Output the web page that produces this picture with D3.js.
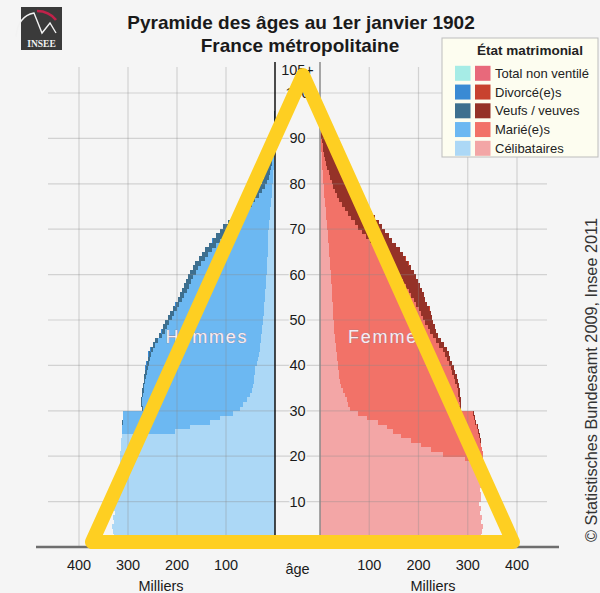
<!DOCTYPE html>
<html><head><meta charset="utf-8">
<script src="https://cdn.jsdelivr.net/npm/d3@7"></script>
<style>
html,body{margin:0;padding:0;background:#f5f5f5;}
svg{display:block;font-family:"Liberation Sans",Arial,sans-serif;}
</style></head><body>
<svg id="chart" width="600" height="593"></svg>
<script>
// ---- DATA (milliers, par âge 0 .. 105+) ----
const ages = d3.range(0, 106);
const ageTickValues = [10,20,30,40,50,60,70,80,90,100,105];
const ageTickLabels = ["10","20","30","40","50","60","70","80","90","100","105+"];
const popTicks = [100,200,300,400];

const hommesCelib = [330,325,328,330,332,329,330,327,328,325,326,324,322,322,320,321,318,318,316,317,316,315,314,314,313,
 204,173,133,112,86,
 71,65,57,51,47,45,43,42,41,40,
 37,35,33,31,30,29,28,27,26,25,
 24,23,22.5,22,21,20,19.5,19,18,17.5,
 17,16.5,16,15.5,15,15,14.5,14,13.5,13.5,
 13,12,11,10,9.5,9,8,7,6,5.5,
 5,4,3.5,3,2.5,2,1.8,1.5,1.2,1,
 0.8,0.6,0.5,0.4,0.3,0.2,0.2,0.1,0.1,0.1,
 0.05,0,0,0,0,0];
const hommesMaries = [0,0,0,0,0,0,0,0,0,0,0,0,0,0,0,0,0,0,0,0,0,0,0,0,0,
 108.5,138.5,178,198,224,
 199,207,214,219,221,222,222,221,221,220,
 221,220,220,218,214,209,202,198,195,192,
 187,183,178,173,169,165,161,157,153,150,
 145,140,135,128,122,114,106,98.5,90,82.5,
 75.5,67.5,59.5,51,44,37,32,26,21,15.5,
 11,9,7.5,6,4.5,4,3.2,2.5,1.8,1.5,
 1.2,0.8,0.6,0.5,0.3,0.2,0.2,0.2,0.1,0.05,
 0.05,0,0,0,0,0];
const hommesVeufs = [0,0,0,0,0,0,0,0,0,0,0,0,0,0,0,0,0,0,0,0,0,0,0,0,0,
 0.5,0.5,1,1,1,
 1.5,1.5,2,2,2.5,3,3,3.5,3.5,4,
 4,4.5,5,5,5.5,6,6,6.5,7,7,
 7.5,7.5,8,8,8.5,9,9,9.5,10,10,
 10.5,11,11.5,12,12.5,13.5,14,15,16,16.5,
 17,17,17,16.5,16,16,15,14,13,12,
 11,10,9,8,7,6,5,4,3,2.5,
 2,1.6,1.4,1.1,0.9,0.8,0.6,0.5,0.4,0.25,
 0.2,0.15,0.1,0.1,0.05,0.05];
const hommesDivorces = [0,0,0,0,0,0,0,0,0,0,0,0,0,0,0,0,0,0,0,0,0,0,0,0,0,0,0,0,0,0,
 0.3,0.3,0.3,0.3,0.3,0.3,0.3,0.3,0.3,0.3,
 0.4,0.4,0.4,0.4,0.4,0.4,0.4,0.4,0.4,0.4,
 0.4,0.4,0.4,0.4,0.4,0.4,0.4,0.4,0.4,0.4,
 0.3,0.3,0.3,0.3,0.3,0.3,0.3,0.3,0.3,0.3,
 0.2,0.2,0.2,0.2,0.2,0.2,0.2,0.2,0.2,0.2,
 0,0,0,0,0,0,0,0,0,0,0,0,0,0,0,0,0,0,0,0,0,0,0,0,0,0];

const femmesCelib = [326,322,326,328,330,327,328,325,326,323,327,326,325,327,326,328,327,328,329,
 295,250,225,205,185,165,148,136,118,95,78,
 61,57,54,50,46,42,40,39,38,37,
 36,35,34,33,32,31,30,29,28,27.5,
 27,26.5,26,25.5,25,24.5,24,23.5,23,22.5,
 22,21,20.5,20,19,18.5,18,17,16.5,15.5,
 15,14,13,12.5,11.5,11,10,9,8.5,8,
 7,6.5,6,5,4.5,4,3.5,3,2.5,2,
 1.5,1.2,1,0.7,0.5,0.4,0.3,0.2,0.15,0.1,
 0.05,0,0,0,0,0];
const femmesMariees = [0,0,0,0,0,0,0,0,0,0,0,0,0,0,0,0,0,0,0,
 35,80,104,121.5,140,158,173.5,182.5,197,217,232,
 222,227,229,231,234,236,235,234,231,229,
 225,222,220,216,210,204,199,194,191,186,
 183,179,175,170,165,161,156,151,146,140,
 134,128,122,115,109,101,93,85,77,70,
 63,56.5,50,44.5,39,34,29,25,21.5,19,
 17,14.5,12,10,8,6.5,5,4,3,2,
 1.5,1,0.7,0.5,0.3,0.2,0.2,0.1,0.05,0.05,
 0,0,0,0,0,0];
const femmesVeuves = [0,0,0,0,0,0,0,0,0,0,0,0,0,0,0,0,0,0,0,
 0,0,0,0.5,1,1,1.5,1.5,2,2,2,
 2.5,3,3,3.5,3.5,4,4.5,5,5.5,6,
 7,7.5,8,9,9.5,10.5,11,12.5,14,16,
 18,19.5,21,22,23.5,25,27,28.5,30,32,
 34,35.5,37,38.5,40,42,43,44.5,46,47,
 48,48.5,49,49,48.5,47,46,44,41,39,
 37,33,30,27,23.5,20.5,17.5,14,11.5,9,
 7,5.8,4.3,3.3,2.7,1.9,1.5,1.2,0.8,0.55,
 0.45,0.3,0.2,0.1,0.05,0.05];
const femmesDivorcees = [0,0,0,0,0,0,0,0,0,0,0,0,0,0,0,0,0,0,0,0,0,0,0,0,0,0,0,0,0,0,
 0.3,0.3,0.3,0.3,0.3,0.3,0.3,0.3,0.3,0.3,
 0.4,0.4,0.4,0.4,0.4,0.4,0.4,0.4,0.4,0.4,
 0.4,0.4,0.4,0.4,0.4,0.4,0.4,0.4,0.4,0.4,
 0.3,0.3,0.3,0.3,0.3,0.3,0.3,0.3,0.3,0.3,
 0.2,0.2,0.2,0.2,0.2,0.2,0.2,0.2,0.2,0.2,
 0,0,0,0,0,0,0,0,0,0,0,0,0,0,0,0,0,0,0,0,0,0,0,0,0,0];

const statusKeys = ["celib","maries","veufs","divorces"];
const legendLabels = ["Total non ventilé","Divorcé(e)s","Veufs / veuves","Marié(e)s","Célibataires"];
const colorsHommes = {nonVentile:"#a6ece6", divorces:"#3a8ad4", veufs:"#3d6f8f", maries:"#6cb8f2", celib:"#acd8f6"};
const colorsFemmes = {nonVentile:"#e8697b", divorces:"#c8422f", veufs:"#953228", maries:"#f27268", celib:"#f3a6a6"};
const legendKeys = ["nonVentile","divorces","veufs","maries","celib"];

// ---- CHART ----
const svg = d3.select("#chart");
svg.append("rect").attr("width",600).attr("height",593).attr("fill","#f5f5f5");

const y = d3.scaleLinear().domain([0,105]).range([547,70.3]);
const xL = d3.scaleLinear().domain([0,400]).range([275,79]);
const xR = d3.scaleLinear().domain([0,400]).range([320,517]);
const barH = y(0) - y(1);

const rowsH = ages.map((a,i)=>({age:a, celib:hommesCelib[i], maries:hommesMaries[i], veufs:hommesVeufs[i], divorces:hommesDivorces[i]}));
const rowsF = ages.map((a,i)=>({age:a, celib:femmesCelib[i], maries:femmesMariees[i], veufs:femmesVeuves[i], divorces:femmesDivorcees[i]}));
const stack = d3.stack().keys(statusKeys);

function drawSide(rows, xs, colors, left){
  const g = svg.append("g").attr("shape-rendering","crispEdges");
  stack(rows).forEach(series=>{
    g.append("g").attr("fill", colors[series.key])
     .selectAll("rect").data(series).join("rect")
     .attr("x", d => left ? xs(d[1]) : xs(d[0]))
     .attr("width", d => Math.abs(xs(d[1]) - xs(d[0])))
     .attr("y", d => y(d.data.age + 1) - 0.3)
     .attr("height", barH + 0.6);
  });
}
drawSide(rowsH, xL, colorsHommes, true);
drawSide(rowsF, xR, colorsFemmes, false);

// grid
const grid = svg.append("g").attr("stroke","#8a8a8a").attr("stroke-opacity",0.32).attr("stroke-width",1.2);
grid.selectAll("line.h").data(ageTickValues.filter(v=>v<=100)).join("line")
  .attr("x1",48).attr("x2",547).attr("y1",d=>y(d)).attr("y2",d=>y(d));
grid.selectAll("line.vl").data(popTicks).join("line")
  .attr("x1",d=>xL(d)).attr("x2",d=>xL(d)).attr("y1",67).attr("y2",547);
grid.selectAll("line.vr").data(popTicks).join("line").attr("class","vr")
  .attr("x1",d=>xR(d)).attr("x2",d=>xR(d)).attr("y1",67).attr("y2",547);

// axes
svg.append("line").attr("x1",36).attr("x2",559).attr("y1",547).attr("y2",547).attr("stroke","#6e6e6e").attr("stroke-width",2.5);
svg.append("line").attr("x1",xL(0)).attr("x2",xL(0)).attr("y1",62).attr("y2",547).attr("stroke","#111").attr("stroke-width",1.5);
svg.append("line").attr("x1",xR(0)).attr("x2",xR(0)).attr("y1",62).attr("y2",547).attr("stroke","#8a8a8a").attr("stroke-width",1.5);

// age labels
svg.append("g").selectAll("text").data(ageTickValues).join("text")
  .attr("x",(xL(0)+xR(0))/2).attr("y",d=>y(d)+5)
  .attr("text-anchor","middle").attr("font-size",14.5).attr("fill","#1a1a1a")
  .attr("stroke","#f5f5f5").attr("stroke-width",3).attr("paint-order","stroke")
  .text((d,i)=>ageTickLabels[i]);

// bottom ticks
const tickG = svg.append("g").attr("font-size",14.5).attr("fill","#1a1a1a").attr("text-anchor","middle");
tickG.selectAll("text.l").data(popTicks).join("text").attr("class","l").attr("x",d=>xL(d)).attr("y",570).text(d=>d);
tickG.selectAll("text.r").data(popTicks).join("text").attr("class","r").attr("x",d=>xR(d)).attr("y",570).text(d=>d);
tickG.append("text").attr("x",161).attr("y",591).text("Milliers");
tickG.append("text").attr("x",433).attr("y",591).text("Milliers");
tickG.append("text").attr("x",(xL(0)+xR(0))/2).attr("y",574).text("âge");

// sex labels
const sexG = svg.append("g").attr("font-size",18).attr("letter-spacing",1.8)
  .attr("fill","#f7edf2").attr("stroke","#9a7c8c").attr("stroke-width",0.7).attr("stroke-opacity",0.8).attr("paint-order","stroke");
sexG.append("text").attr("x",207).attr("y",343).attr("text-anchor","middle").text("Hommes");
sexG.append("text").attr("x",348).attr("y",343).text("Femmes");

// title
const tG = svg.append("g").attr("font-weight","bold").attr("font-size",19).attr("fill","#1a1a1a").attr("text-anchor","middle");
tG.append("text").attr("x",301).attr("y",29).text("Pyramide des âges au 1er janvier 1902");
tG.append("text").attr("x",300).attr("y",52).text("France métropolitaine");

// legend
const lg = svg.append("g");
lg.append("rect").attr("x",442).attr("y",38).attr("width",156).attr("height",119)
  .attr("fill","#fdfdf0").attr("stroke","#bdbdbd").attr("stroke-width",1);
lg.append("text").attr("x",530).attr("y",55).attr("text-anchor","middle")
  .attr("font-size",13.5).attr("font-weight","bold").attr("fill","#222").text("État matrimonial");
const items = lg.selectAll("g.it").data(legendKeys).join("g")
  .attr("transform",(d,i)=>`translate(0,${73.3 + i*18.75})`);
items.append("rect").attr("x",455).attr("y",-7.5).attr("width",15.5).attr("height",15).attr("fill",d=>colorsHommes[d]);
items.append("rect").attr("x",475).attr("y",-7.5).attr("width",15.5).attr("height",15).attr("fill",d=>colorsFemmes[d]);
items.append("text").attr("x",495).attr("y",4.5).attr("font-size",13).attr("fill","#222").text((d,i)=>legendLabels[i]);

// copyright
svg.append("text").attr("transform","translate(597,380) rotate(-90)")
  .attr("text-anchor","middle").attr("font-size",16.3).attr("fill","#333")
  .text("© Statistisches Bundesamt 2009, Insee 2011");

// INSEE logo
const logo = svg.append("g");
logo.append("rect").attr("x",21).attr("y",7).attr("width",41).attr("height",43).attr("fill","#3a3a3a");
logo.append("path").attr("d","M16,37 Q18,16 34,13 L42,33 L50,23 L56,33").attr("fill","none").attr("stroke","#f2f2f2").attr("stroke-width",1.4);
logo.append("path").attr("d","M37,11 Q49,11 56,20").attr("fill","none").attr("stroke","#c0224a").attr("stroke-width",2.6);
logo.append("text").attr("x",41.5).attr("y",47).attr("text-anchor","middle").attr("font-family","Liberation Serif, serif")
  .attr("font-weight","bold").attr("font-size",9.5).attr("fill","#f2f2f2").text("INSEE");

// yellow triangle annotation
const tri = [[303,75],[92,542],[513,542]];
svg.append("path").attr("d", d3.line()(tri) + "Z")
  .attr("fill","none").attr("stroke","#fecf22").attr("stroke-width",14).attr("stroke-linejoin","round");
</script>
</body></html>
